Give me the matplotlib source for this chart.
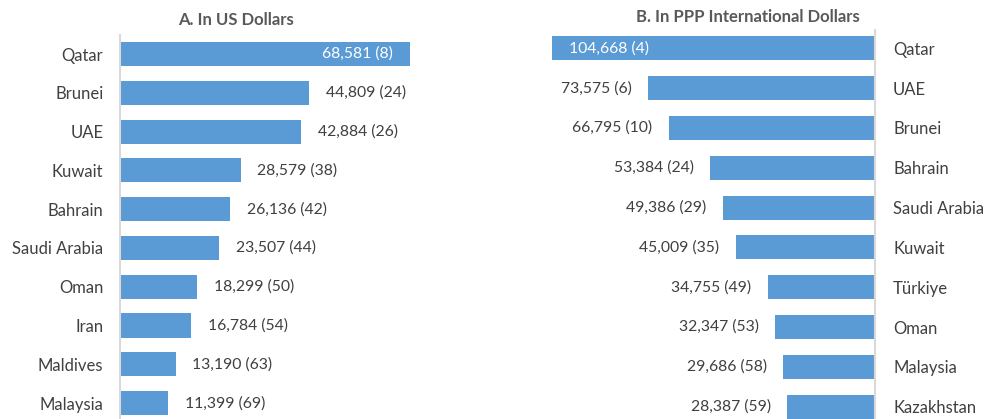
import matplotlib
matplotlib.use('Agg')
import matplotlib.pyplot as plt

# panel A data (US dollars)
usd_countries = ['Qatar', 'Brunei', 'UAE', 'Kuwait', 'Bahrain', 'Saudi Arabia',
                 'Oman', 'Iran', 'Maldives', 'Malaysia']
usd_values = [68581, 44809, 42884, 28579, 26136, 23507, 18299, 16784, 13190, 11399]
usd_ranks = [8, 24, 26, 38, 42, 44, 50, 54, 63, 69]

# panel B data (PPP international dollars)
ppp_countries = ['Qatar', 'UAE', 'Brunei', 'Bahrain', 'Saudi Arabia', 'Kuwait',
                 'Türkiye', 'Oman', 'Malaysia', 'Kazakhstan']
ppp_values = [104668, 73575, 66795, 53384, 49386, 45009, 34755, 32347, 29686, 28387]
ppp_ranks = [4, 6, 10, 24, 29, 35, 49, 53, 58, 59]

bar_color = '#5B9BD5'
text_color = '#404040'
title_color = '#595959'
axis_color = '#D9D9D9'

plt.rcParams['font.family'] = ['Lato', 'DejaVu Sans']
cat_size = 12
val_size = 11.3

W, H = 992, 419
fig = plt.figure(figsize=(W / 100, H / 100), dpi=100)

def px_axes(left, top, right, bottom):
    return fig.add_axes([left / W, 1 - bottom / H, (right - left) / W, (bottom - top) / H])

# set axes format
axA = px_axes(120, 35, 458, 419)
axB = px_axes(505, 30, 875, 419)

# panel A
posA = list(range(len(usd_countries)))
axA.barh(posA, usd_values, height=0.62, color=bar_color)
axA.set_xlim(0, 80000)
axA.set_ylim(9.41, -0.49)
axA.set_yticks(posA)
axA.set_yticklabels(usd_countries, color=text_color, fontsize=cat_size)
axA.tick_params(axis='y', length=0, pad=12)
axA.set_xticks([])
for s in ['top', 'right', 'bottom']:
    axA.spines[s].set_visible(False)
axA.spines['left'].set_color(axis_color)
axA.spines['left'].set_linewidth(1.5)
for i, (v, r) in enumerate(zip(usd_values, usd_ranks)):
    lbl = f'{v:,} ({r})'
    if i == 0:
        axA.annotate(lbl, (v, i), xytext=(-12, 0), textcoords='offset points',
                     ha='right', va='center', color='white', fontsize=val_size)
    else:
        axA.annotate(lbl, (v, i), xytext=(12, 0), textcoords='offset points',
                     ha='left', va='center', color=text_color, fontsize=val_size)
axA.set_title('A. In US Dollars', fontweight='bold', color=title_color,
              fontsize=12, x=0.342, pad=7)

# panel B
posB = list(range(len(ppp_countries)))
axB.barh(posB, ppp_values, height=0.6, color=bar_color)
axB.set_xlim(120000, 0)
axB.set_ylim(9.31, -0.46)
axB.yaxis.tick_right()
axB.set_yticks(posB)
axB.set_yticklabels(ppp_countries, color=text_color, fontsize=cat_size)
axB.tick_params(axis='y', length=0, pad=13)
axB.set_xticks([])
for s in ['top', 'left', 'bottom']:
    axB.spines[s].set_visible(False)
axB.spines['right'].set_color(axis_color)
axB.spines['right'].set_linewidth(1.5)
for i, (v, r) in enumerate(zip(ppp_values, ppp_ranks)):
    lbl = f'{v:,} ({r})'
    if i == 0:
        axB.annotate(lbl, (v, i), xytext=(12, 0), textcoords='offset points',
                     ha='left', va='center', color='white', fontsize=val_size)
    else:
        axB.annotate(lbl, (v, i), xytext=(-12, 0), textcoords='offset points',
                     ha='right', va='center', color=text_color, fontsize=val_size)
axB.set_title('B. In PPP International Dollars', fontweight='bold', color=title_color,
              fontsize=12, x=0.657, pad=6)

fig.savefig('out.png', dpi=100)
